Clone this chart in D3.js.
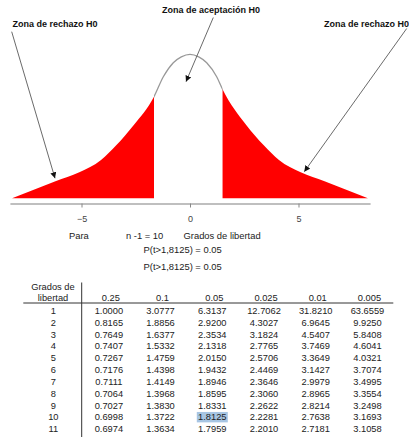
<!DOCTYPE html>
<html><head><meta charset="utf-8">
<script src="https://cdn.jsdelivr.net/npm/d3@7"></script>
<style>
html,body{margin:0;padding:0;background:#fff;}
svg{display:block;font-family:"Liberation Sans",Arial,sans-serif;}
</style></head>
<body><svg id="c" width="409" height="437"></svg>
<script>
// ---- curve data ----
const tGrid   = [-8.2,-7.2,-6.2,-5.1,-4.1,-3.4,-2.6,-1.66,-1.23,-0.77,-0.4,0,0.4,0.77,1.23,1.5,2.6,3.4,4.1,5.1,6.2,7.2,8.2];
const density = [0,0.0078,0.0156,0.0238,0.0351,0.0486,0.067,0.0932,0.1115,0.1244,0.1298,0.1321,0.1298,0.1244,0.1115,0.1000,0.067,0.0486,0.0351,0.0238,0.0156,0.0078,0];
const leftCut = -1.66, rightCut = 1.5;
const axisTicks = [-5, 0, 5];

// ---- table data ----
const alphas = ["0.25","0.1","0.05","0.025","0.01","0.005"];
const dfs = [1,2,3,4,5,6,7,8,9,10,11];
const col025  = ["1.0000","0.8165","0.7649","0.7407","0.7267","0.7176","0.7111","0.7064","0.7027","0.6998","0.6974"];
const col010  = ["3.0777","1.8856","1.6377","1.5332","1.4759","1.4398","1.4149","1.3968","1.3830","1.3722","1.3634"];
const col005  = ["6.3137","2.9200","2.3534","2.1318","2.0150","1.9432","1.8946","1.8595","1.8331","1.8125","1.7959"];
const col0025 = ["12.7062","4.3027","3.1824","2.7765","2.5706","2.4469","2.3646","2.3060","2.2622","2.2281","2.2010"];
const col001  = ["31.8210","6.9645","4.5407","3.7469","3.3649","3.1427","2.9979","2.8965","2.8214","2.7638","2.7181"];
const col0005 = ["63.6559","9.9250","5.8408","4.6041","4.0321","3.7074","3.4995","3.3554","3.2498","3.1693","3.1058"];
const highlight = {df: 10, alpha: "0.05"};

const svg = d3.select("#c");
const x = d3.scaleLinear().domain([-8.3, 8.3]).range([9.9, 370.1]);
const y = d3.scaleLinear().domain([0, 0.14]).range([198.3, 45.7]);
const pts = tGrid.map((t,i)=>({t, d: density[i]}));

const defs = svg.append("defs");
defs.append("clipPath").attr("id","tails").selectAll("rect")
  .data([[x(-9), x(leftCut)], [x(rightCut), x(9)]]).join("rect")
  .attr("x", d=>d[0]).attr("width", d=>d[1]-d[0]).attr("y",0).attr("height",437);
defs.append("clipPath").attr("id","mid").append("rect")
  .attr("x", x(leftCut)).attr("width", x(rightCut)-x(leftCut)).attr("y",0).attr("height",437);
defs.append("marker").attr("id","arr").attr("viewBox","0 0 10 10")
  .attr("refX",10).attr("refY",5).attr("markerWidth",6).attr("markerHeight",6)
  .attr("markerUnits","userSpaceOnUse").attr("orient","auto")
  .append("path").attr("d","M0,0 L10,5 L0,10 z").attr("fill","#111");

const area = d3.area().x(d=>x(d.t)).y0(y(0)).y1(d=>y(d.d)).curve(d3.curveMonotoneX);
const line = d3.line().x(d=>x(d.t)).y(d=>y(d.d)).curve(d3.curveMonotoneX);

svg.append("path").datum(pts).attr("d", area).attr("fill","#ff0000").attr("clip-path","url(#tails)");
svg.append("path").datum(pts).attr("d", line).attr("fill","none").attr("stroke","#999").attr("stroke-width",1.3).attr("clip-path","url(#mid)");

// axis
const ax = svg.append("g").attr("transform","translate(0,203.5)")
  .call(d3.axisBottom(x).tickValues(axisTicks).tickSize(4).tickSizeOuter(0).tickPadding(8).tickFormat(d3.format("d")));
ax.select(".domain").attr("stroke","#aaa").attr("stroke-width",1.5);
ax.selectAll(".tick line").attr("stroke","#888");
ax.selectAll(".tick text").attr("font-size",9).attr("fill","#444").attr("font-family","Liberation Sans, Arial, sans-serif");

// annotations
const labels = [
  {txt:"Zona de aceptación H0", x:211, y:13, anchor:"middle"},
  {txt:"Zona de rechazo H0", x:12.5, y:27, anchor:"start"},
  {txt:"Zona de rechazo H0", x:324, y:27, anchor:"start"}
];
svg.selectAll("text.ann").data(labels).join("text").attr("class","ann")
  .attr("x",d=>d.x).attr("y",d=>d.y).attr("text-anchor",d=>d.anchor)
  .attr("font-size",9).attr("font-weight","bold").attr("fill","#111").text(d=>d.txt);

const arrows = [
  [213.3,17.5,186,81.7],
  [11.7,31.7,55,178.3],
  [406.7,28.5,304.3,171.7]
];
svg.selectAll("line.arr").data(arrows).join("line").attr("class","arr")
  .attr("x1",d=>d[0]).attr("y1",d=>d[1]).attr("x2",d=>d[2]).attr("y2",d=>d[3])
  .attr("stroke","#444").attr("stroke-width",0.8).attr("marker-end","url(#arr)");

const notes = [
  {txt:"Para", x:69, y:238.5},
  {txt:"n -1 = 10", x:126, y:238.5},
  {txt:"Grados de libertad", x:183.5, y:238.5},
  {txt:"P(t>1,8125) = 0.05", x:143.5, y:252.8},
  {txt:"P(t>1,8125) = 0.05", x:143.5, y:269.5}
];
svg.selectAll("text.note").data(notes).join("text").attr("class","note")
  .attr("x",d=>d.x).attr("y",d=>d.y).attr("font-size",9.4).attr("fill","#222").text(d=>d.txt);

// table
const cols = [col025,col010,col005,col0025,col001,col0005];
const cx = d3.scaleBand().domain(alphas).range([83, 393.3]);
const ry = d3.scalePoint().domain(dfs).range([310.7, 429]);
const tbl = svg.append("g").attr("font-size",9.3).attr("fill","#222");

tbl.append("rect")
  .attr("x", cx(highlight.alpha)+cx.bandwidth()/2-15.5).attr("width",31)
  .attr("y", ry(highlight.df)-5.2).attr("height",10.4).attr("fill","#a7c5e3");

tbl.append("line").attr("x1",81.7).attr("x2",81.7).attr("y1",282.5).attr("y2",437).attr("stroke","#333").attr("stroke-width",1);
tbl.append("line").attr("x1",23.3).attr("x2",393.3).attr("y1",303).attr("y2",303).attr("stroke","#333").attr("stroke-width",1);

tbl.append("text").attr("x",53).attr("y",290).attr("text-anchor","middle").text("Grados de");
tbl.append("text").attr("x",53).attr("y",300.6).attr("text-anchor","middle").text("libertad");
tbl.selectAll("text.hdr").data(alphas).join("text").attr("class","hdr")
  .attr("x",d=>cx(d)+cx.bandwidth()/2+2).attr("y",300.6).attr("text-anchor","middle").text(d=>d);
tbl.selectAll("text.df").data(dfs).join("text").attr("class","df")
  .attr("x",53.3).attr("y",d=>ry(d)+3.3).attr("text-anchor","middle").text(d=>d);
alphas.forEach((a,j)=>{
  tbl.selectAll("text.c"+j).data(cols[j]).join("text").attr("class","c"+j)
    .attr("x",cx(a)+cx.bandwidth()/2).attr("y",(d,i)=>ry(dfs[i])+3.3).attr("text-anchor","middle").text(d=>d);
});
</script></body></html>
